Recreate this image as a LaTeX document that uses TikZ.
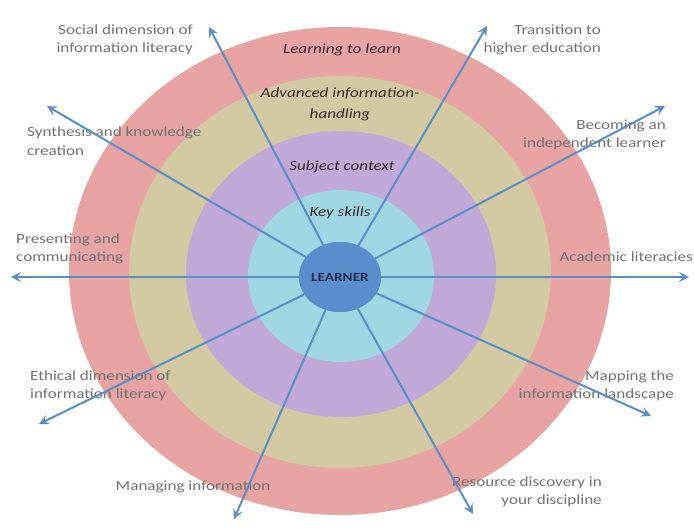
\documentclass[tikz,border=0pt]{standalone}
\usepackage{fontspec}
\setmainfont{Carlito}
\newfontfamily\widefont[FakeStretch=1.22]{Carlito}
\usetikzlibrary{arrows.meta,shapes.geometric}
\definecolor{ringred}{HTML}{E8A3A3}
\definecolor{ringtan}{HTML}{D3C9A3}
\definecolor{ringpurple}{HTML}{C1A9D8}
\definecolor{ringblue}{HTML}{9FD8E3}
\definecolor{learnerblue}{HTML}{5A8DCB}
\definecolor{arrowblue}{HTML}{5B8EC5}
\definecolor{labelgray}{HTML}{727272}
\definecolor{ringtext}{HTML}{3A2A30}
\definecolor{learnertext}{HTML}{1E2F4F}
\begin{document}
\begin{tikzpicture}[x=1pt,y=-1pt,
  outlabel/.style={text=labelgray,font=\widefont\fontsize{14}{18.5}\selectfont,inner sep=0pt},
  ringlabel/.style={text=ringtext,font=\widefont\fontsize{14}{21}\selectfont\itshape,inner sep=0pt,align=center},
  learner/.style={ellipse,fill=learnerblue,minimum width=82pt,minimum height=70pt,inner sep=0pt},
  arr/.style={draw=arrowblue,line width=2pt,-{Stealth[length=10pt,width=10pt,inset=4pt]}}]
\useasboundingbox (0,0) rectangle (694,528);
\fill[white] (0,0) rectangle (694,528);
% rings
\fill[ringred] (340,271) ellipse [x radius=271,y radius=244];
\fill[ringtan] (340,272) ellipse [x radius=211,y radius=196];
\fill[ringpurple] (341,274) ellipse [x radius=155,y radius=143];
\fill[ringblue] (341,276) ellipse [x radius=93,y radius=86];
% ring labels
\node[ringlabel] (r1) at (342,50) {Learning to learn};
\node[ringlabel] (r2) at (340,104) {Advanced information-\\handling};
\node[ringlabel] (r3) at (342,167) {Subject context};
\node[ringlabel] (r4) at (340,213) {Key skills};
% outer labels
\node[outlabel,align=right,anchor=east] (t1) at (193,40) {Social dimension of\\information literacy};
\node[outlabel,align=left,anchor=west] (t2) at (27,141) {Synthesis and knowledge\\creation};
\node[outlabel,align=left,anchor=west] (t3) at (16,249) {Presenting and\\communicating};
\node[outlabel,align=left,anchor=west] (t4) at (30,386) {Ethical dimension of\\information literacy};
\node[outlabel,anchor=center] (t5) at (193,487) {Managing information};
\node[outlabel,align=right,anchor=east] (t6) at (602,492) {Resource discovery in\\your discipline};
\node[outlabel,align=right,anchor=east] (t7) at (674,386) {Mapping the\\information landscape};
\node[outlabel,anchor=east] (t8) at (693,257) {Academic literacies};
\node[outlabel,align=right,anchor=east] (t9) at (666,135) {Becoming an\\independent learner};
\node[outlabel,align=right,anchor=east] (t10) at (601,40) {Transition to\\higher education};
% learner
\node[learner] (L) at (340,277) {};
% arrow tips
\coordinate (a1) at (209,27);
\coordinate (a2) at (47,106);
\coordinate (a3) at (11,277);
\coordinate (a4) at (39,424);
\coordinate (a5) at (234,519);
\coordinate (a6) at (473,514);
\coordinate (a7) at (651,416);
\coordinate (a8) at (689,277);
\coordinate (a9) at (665,106);
\coordinate (a10) at (487,26);
\foreach \i in {1,...,10} {\draw[arr] (L) -- (a\i);}
\node[learner,text=learnertext,font=\widefont\fontsize{12.5}{14}\selectfont\bfseries] (L2) at (L) {LEARNER};
\end{tikzpicture}
\end{document}
